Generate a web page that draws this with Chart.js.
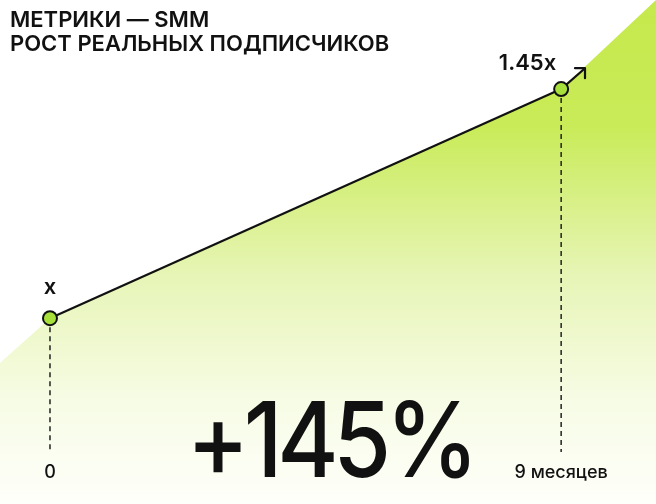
<!DOCTYPE html>
<html>
<head>
  <meta charset="utf-8" />
  <title>Метрики SMM</title>
  <style>
    body { margin: 0; background: #fff; }
    #stage { display: block; }
  </style>
</head>
<body>
  <canvas id="stage" width="656" height="504"></canvas>

  <script src="https://cdn.jsdelivr.net/npm/chart.js@4.4.1/dist/chart.umd.min.js"></script>
  <script>
    // данные: рост подписчиков (месяцы -> множитель)
    const months = [0, 9];
    const growth = [1, 1.45];
    const pointLabels = ['x', '1.45x'];
    const axisLabels = ['0', '9 месяцев'];
    // стрелка после последней точки
    const arrowX = [9, 9.42];
    const arrowY = [1.45, 1.491];
    // зелёная заливка (выходит за края)
    const fillX = [-0.88, 0, 9, 10.67];
    const fillY = [0.912, 1, 1.45, 1.625];

    const titleLines = ['МЕТРИКИ — SMM', 'РОСТ РЕАЛЬНЫХ ПОДПИСЧИКОВ'];
    const bigText = '+145%';

    const zip = (xs, ys) => xs.map((x, i) => ({ x: x, y: ys[i] }));

    function greenGradient(context) {
      const area = context.chart.chartArea;
      if (!area) return 'rgba(197,233,77,0.5)';
      const g = context.chart.ctx.createLinearGradient(0, area.top, 0, area.bottom);
      g.addColorStop(0, 'rgb(197,233,76)');
      g.addColorStop(0.25, 'rgb(201,235,88)');
      g.addColorStop(0.55, 'rgb(231,245,183)');
      g.addColorStop(0.8, 'rgb(247,252,230)');
      g.addColorStop(1, 'rgb(254,255,250)');
      return g;
    }

    const decor = {
      id: 'decor',
      afterDatasetsDraw(chart) {
        const ctx = chart.ctx;
        const xs = chart.scales.x, ys = chart.scales.y;
        ctx.save();

        // пунктир от точек вниз
        ctx.strokeStyle = '#222';
        ctx.lineWidth = 1.5;
        ctx.setLineDash([5, 4]);
        months.forEach((m, i) => {
          const px = xs.getPixelForValue(m);
          const py = ys.getPixelForValue(growth[i]);
          ctx.beginPath();
          ctx.moveTo(px, py + 9);
          ctx.lineTo(px, 452);
          ctx.stroke();
        });
        ctx.setLineDash([]);

        // наконечник стрелки
        const tx = xs.getPixelForValue(arrowX[1]);
        const ty = ys.getPixelForValue(arrowY[1]);
        ctx.strokeStyle = '#111';
        ctx.lineWidth = 2.2;
        ctx.lineCap = 'round';
        ctx.lineJoin = 'round';
        ctx.beginPath();
        ctx.moveTo(tx - 10, ty);
        ctx.lineTo(tx, ty);
        ctx.lineTo(tx, ty + 10);
        ctx.stroke();

        ctx.fillStyle = '#111';

        // подписи точек
        ctx.font = '600 22px Inter';
        ctx.textBaseline = 'alphabetic';
        months.forEach((m, i) => {
          const px = xs.getPixelForValue(m);
          const py = ys.getPixelForValue(growth[i]);
          if (i === 0) {
            ctx.textAlign = 'center';
            ctx.fillText(pointLabels[i], px, py - 24);
          } else {
            ctx.textAlign = 'right';
            ctx.fillText(pointLabels[i], px - 5, py - 19);
          }
        });

        // подписи оси
        ctx.font = '500 18px Inter';
        ctx.textAlign = 'center';
        months.forEach((m, i) => {
          ctx.fillText(axisLabels[i], xs.getPixelForValue(m), 478);
        });

        // заголовок
        ctx.font = '600 22px Inter';
        ctx.textAlign = 'left';
        titleLines.forEach((t, i) => ctx.fillText(t, 10, 27 + i * 24));

        // большое число
        ctx.save();
        ctx.translate(330, 477);
        ctx.scale(0.9, 1);
        ctx.font = '500 104px Inter';
        ctx.letterSpacing = '-6px';
        ctx.textAlign = 'center';
        ctx.fillText(bigText, 0, 0);
        ctx.restore();

        ctx.restore();
      }
    };

    new Chart(document.getElementById('stage'), {
      type: 'line',
      data: {
        datasets: [{
          data: zip(fillX, fillY),
          borderWidth: 0,
          pointRadius: 0,
          fill: 'start',
          backgroundColor: greenGradient,
          clip: false,
          order: 3
        }, {
          data: zip(arrowX, arrowY),
          borderColor: '#111',
          borderWidth: 2.2,
          pointRadius: 0,
          fill: false,
          order: 2
        }, {
          data: zip(months, growth),
          borderColor: '#111',
          borderWidth: 2.2,
          pointRadius: 7,
          pointBackgroundColor: '#a7df3b',
          pointBorderColor: '#111',
          pointBorderWidth: 2,
          fill: false,
          order: 1
        }]
      },
      options: {
        responsive: false,
        animation: false,
        layout: { padding: 0, autoPadding: false },
        plugins: {
          legend: { display: false },
          tooltip: { enabled: false },
          title: { display: false }
        },
        scales: {
          x: { type: 'linear', display: false, min: -0.88, max: 10.67 },
          y: { type: 'linear', display: false, min: 0.635, max: 1.625 }
        }
      },
      plugins: [decor]
    });
  </script>
</body>
</html>
